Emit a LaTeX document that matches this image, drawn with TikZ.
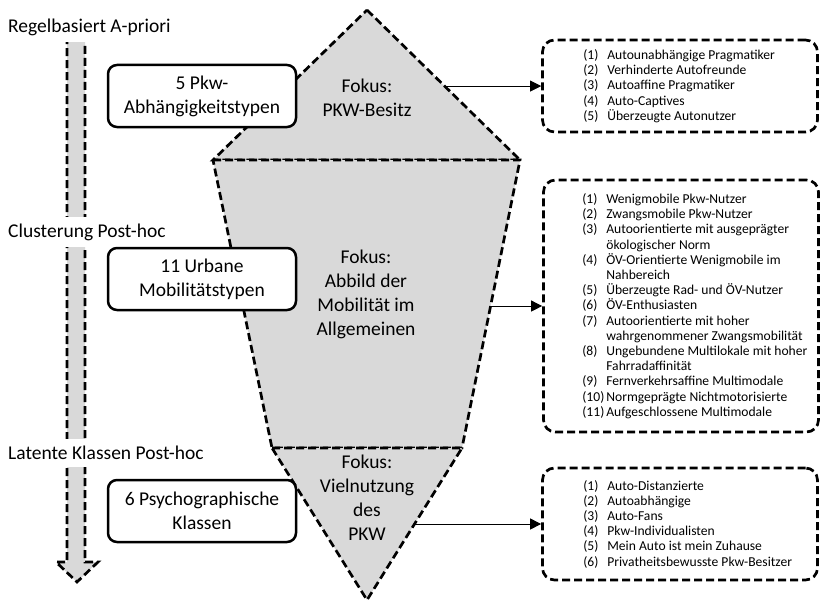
\documentclass[tikz,border=0pt]{standalone}
\usepackage{fontspec}
\setmainfont{Carlito}
\usetikzlibrary{arrows.meta}
\definecolor{gris}{RGB}{217,217,217}
\newcommand{\nr}[1]{\makebox[24pt][l]{(#1)}}
\newcommand{\suite}{\hspace*{24pt}}
\tikzset{
 tiret/.style={line width=2.7pt, dash pattern=on 8pt off 4pt},
 boite/.style={draw, line width=2.5pt, rounded corners=9pt, fill=white,
  minimum width=188pt, minimum height=62pt, align=center,
  font=\fontsize{19.5}{24}\selectfont},
 liste/.style={tiret, draw, rounded corners=12pt, minimum width=275pt},
 texte/.style={anchor=west, align=left, inner sep=0pt,
  font=\fontsize{13.6}{15.2}\selectfont},
 fokus/.style={align=center, font=\fontsize{19.5}{24}\selectfont},
 etiq/.style={anchor=west, fill=white, inner xsep=0pt, inner ysep=7pt,
  font=\fontsize{19.5}{22}\selectfont},
 fleche/.style={-{Triangle[length=11pt,width=11pt]}, line width=0.7pt}
}

\begin{document}
\begin{tikzpicture}[x=1pt,y=-1pt]
\useasboundingbox (0,0) rectangle (822,602);
%Funnel
	\coordinate (apexA) at (367,10);
	\coordinate (baseL) at (213,160);
	\coordinate (baseR) at (520,160);
	\coordinate (waistL) at (272,448);
	\coordinate (waistR) at (462,448);
	\coordinate (apexB) at (367,600);
	\filldraw[fill=gris, tiret] (apexA) -- (baseR) -- (baseL) -- cycle;
	\filldraw[fill=gris, tiret] (baseL) -- (baseR) -- (waistR) -- (waistL) -- cycle;
	\filldraw[fill=gris, tiret] (waistL) -- (waistR) -- (apexB) -- cycle;
%Left arrow
	\filldraw[fill=gris, tiret] (67,40) -- (85,40) -- (85,562) -- (98,562)
		-- (77,582) -- (56,562) -- (67,562) -- cycle;
	\node[etiq] (regel) at (8,27) {Regelbasiert A-priori};
	\node[etiq] (cluster) at (8,232) {Clusterung Post-hoc};
	\node[etiq] (latent) at (8,453) {Latente Klassen Post-hoc};
%Types
	\node[boite] (pkw) at (202,96) {5 Pkw-\\Abhängigkeitstypen};
	\node[boite] (urban) at (202,279) {11 Urbane\\Mobilitätstypen};
	\node[boite] (psycho) at (202,511) {6 Psychographische\\Klassen};
%Focus
	\node[fokus] (fokA) at (367,98) {Fokus:\\PKW-Besitz};
	\node[fokus] (fokB) at (366,294) {Fokus:\\Abbild der\\Mobilität im\\Allgemeinen};
	\node[fokus] (fokC) at (367,498) {Fokus:\\Vielnutzung\\des\\PKW};
%Lists
	\node[liste, minimum height=92pt] (listA) at (680,86) {};
	\node[texte] (itemsA) at ([xshift=42pt]listA.west) {\nr{1}Autounabhängige Pragmatiker\\
		\nr{2}Verhinderte Autofreunde\\ \nr{3}Autoaffine Pragmatiker\\
		\nr{4}Auto-Captives\\ \nr{5}Überzeugte Autonutzer};
	\node[liste, minimum height=252pt] (listB) at (681,306) {};
	\node[texte] (itemsB) at ([xshift=40pt]listB.west) {\nr{1}Wenigmobile Pkw-Nutzer\\
		\nr{2}Zwangsmobile Pkw-Nutzer\\
		\nr{3}Autoorientierte mit ausgeprägter\\ \suite ökologischer Norm\\
		\nr{4}ÖV-Orientierte Wenigmobile im\\ \suite Nahbereich\\
		\nr{5}Überzeugte Rad- und ÖV-Nutzer\\ \nr{6}ÖV-Enthusiasten\\
		\nr{7}Autoorientierte mit hoher\\ \suite wahrgenommener Zwangsmobilität\\
		\nr{8}Ungebundene Multilokale mit hoher\\ \suite Fahrradaffinität\\
		\nr{9}Fernverkehrsaffine Multimodale\\ \nr{10}Normgeprägte Nichtmotorisierte\\
		\nr{11}Aufgeschlossene Multimodale};
	\node[liste, minimum height=112pt] (listC) at (680,524) {};
	\node[texte] (itemsC) at ([xshift=42pt]listC.west) {\nr{1}Auto-Distanzierte\\
		\nr{2}Autoabhängige\\ \nr{3}Auto-Fans\\ \nr{4}Pkw-Individualisten\\
		\nr{5}Mein Auto ist mein Zuhause\\ \nr{6}Privatheitsbewusste Pkw-Besitzer};
%Connections
	\path (apexA) -- (baseR) coordinate[pos=.507] (outA);
	\path (baseR) -- (waistR) coordinate[pos=.507] (outB);
	\path (waistR) -- (apexB) coordinate[pos=.5] (outC);
	\draw[fleche] (outA) -- (outA -| listA.west);
	\draw[fleche] (outB) -- (outB -| listB.west);
	\draw[fleche] (outC) -- (outC -| listC.west);
\end{tikzpicture}
\end{document}
